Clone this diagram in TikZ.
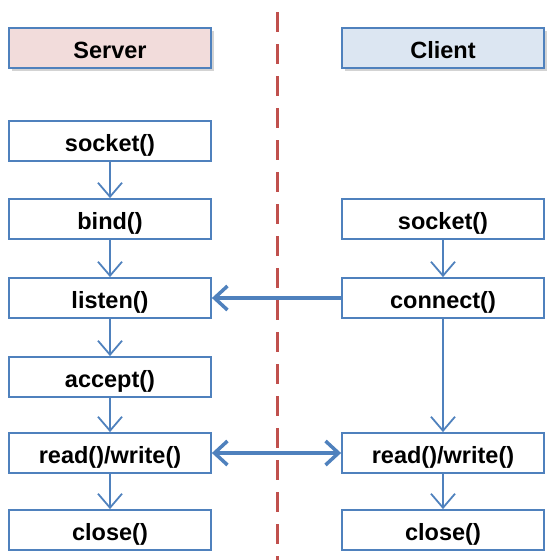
\documentclass[tikz,border=0pt]{standalone}
\usepackage{fontspec}
\setmainfont{Liberation Sans}
\usetikzlibrary{arrows.meta,shadows}
\definecolor{bluel}{HTML}{4F81BD}
\definecolor{redl}{HTML}{C0504D}
\definecolor{pinkf}{HTML}{F2DCDB}
\definecolor{bluef}{HTML}{DCE6F2}
\tikzset{
  fbox/.style={draw=bluel, line width=1.8pt, fill=white, minimum width=202pt, minimum height=40pt, inner sep=0pt, text height=20pt, text depth=0pt, font=\fontsize{23.5}{25}\selectfont\bfseries},
  hdr/.style={fbox, drop shadow={shadow xshift=2.5pt, shadow yshift=-2.5pt, opacity=0.35}},
  thin/.style={draw=bluel, line width=1.8pt, -{Straight Barb[length=14pt,width=24pt,line width=1.8pt]}},
  thick/.style={draw=bluel, line width=3.5pt, -{Straight Barb[length=13pt,width=24pt,line width=3.5pt]}},
  thickd/.style={draw=bluel, line width=3.5pt, {Straight Barb[length=13pt,width=24pt,line width=3.5pt]}-{Straight Barb[length=13pt,width=24pt,line width=3.5pt]}},
}
\begin{document}
\begin{tikzpicture}[x=1pt,y=-1pt]
\useasboundingbox (0,0) rectangle (554,560);
\draw[redl, line width=3pt, dash pattern=on 20pt off 12pt] (277,12) -- (277,560);
\node[hdr, fill=pinkf] (server) at (110,48) {Server};
\node[hdr, fill=bluef] (client) at (443,48) {Client};
\node[fbox] (ssock) at (110,141) {socket()};
\node[fbox] (sbind) at (110,219) {bind()};
\node[fbox] (slist) at (110,298) {listen()};
\node[fbox] (sacc) at (110,377) {accept()};
\node[fbox] (srw) at (110,453) {read()/write()};
\node[fbox] (sclose) at (110,530) {close()};
\node[fbox] (csock) at (443,219) {socket()};
\node[fbox] (cconn) at (443,298) {connect()};
\node[fbox] (crw) at (443,453) {read()/write()};
\node[fbox] (cclose) at (443,530) {close()};
\draw[thin] (ssock) -- (sbind);
\draw[thin] (sbind) -- (slist);
\draw[thin] (slist) -- (sacc);
\draw[thin] (sacc) -- (srw);
\draw[thin] (srw) -- (sclose);
\draw[thin] (csock) -- (cconn);
\draw[thin] (cconn) -- (crw);
\draw[thin] (crw) -- (cclose);
\draw[thick] (cconn) -- (slist);
\draw[thickd] (srw) -- (crw);
\end{tikzpicture}
\end{document}
